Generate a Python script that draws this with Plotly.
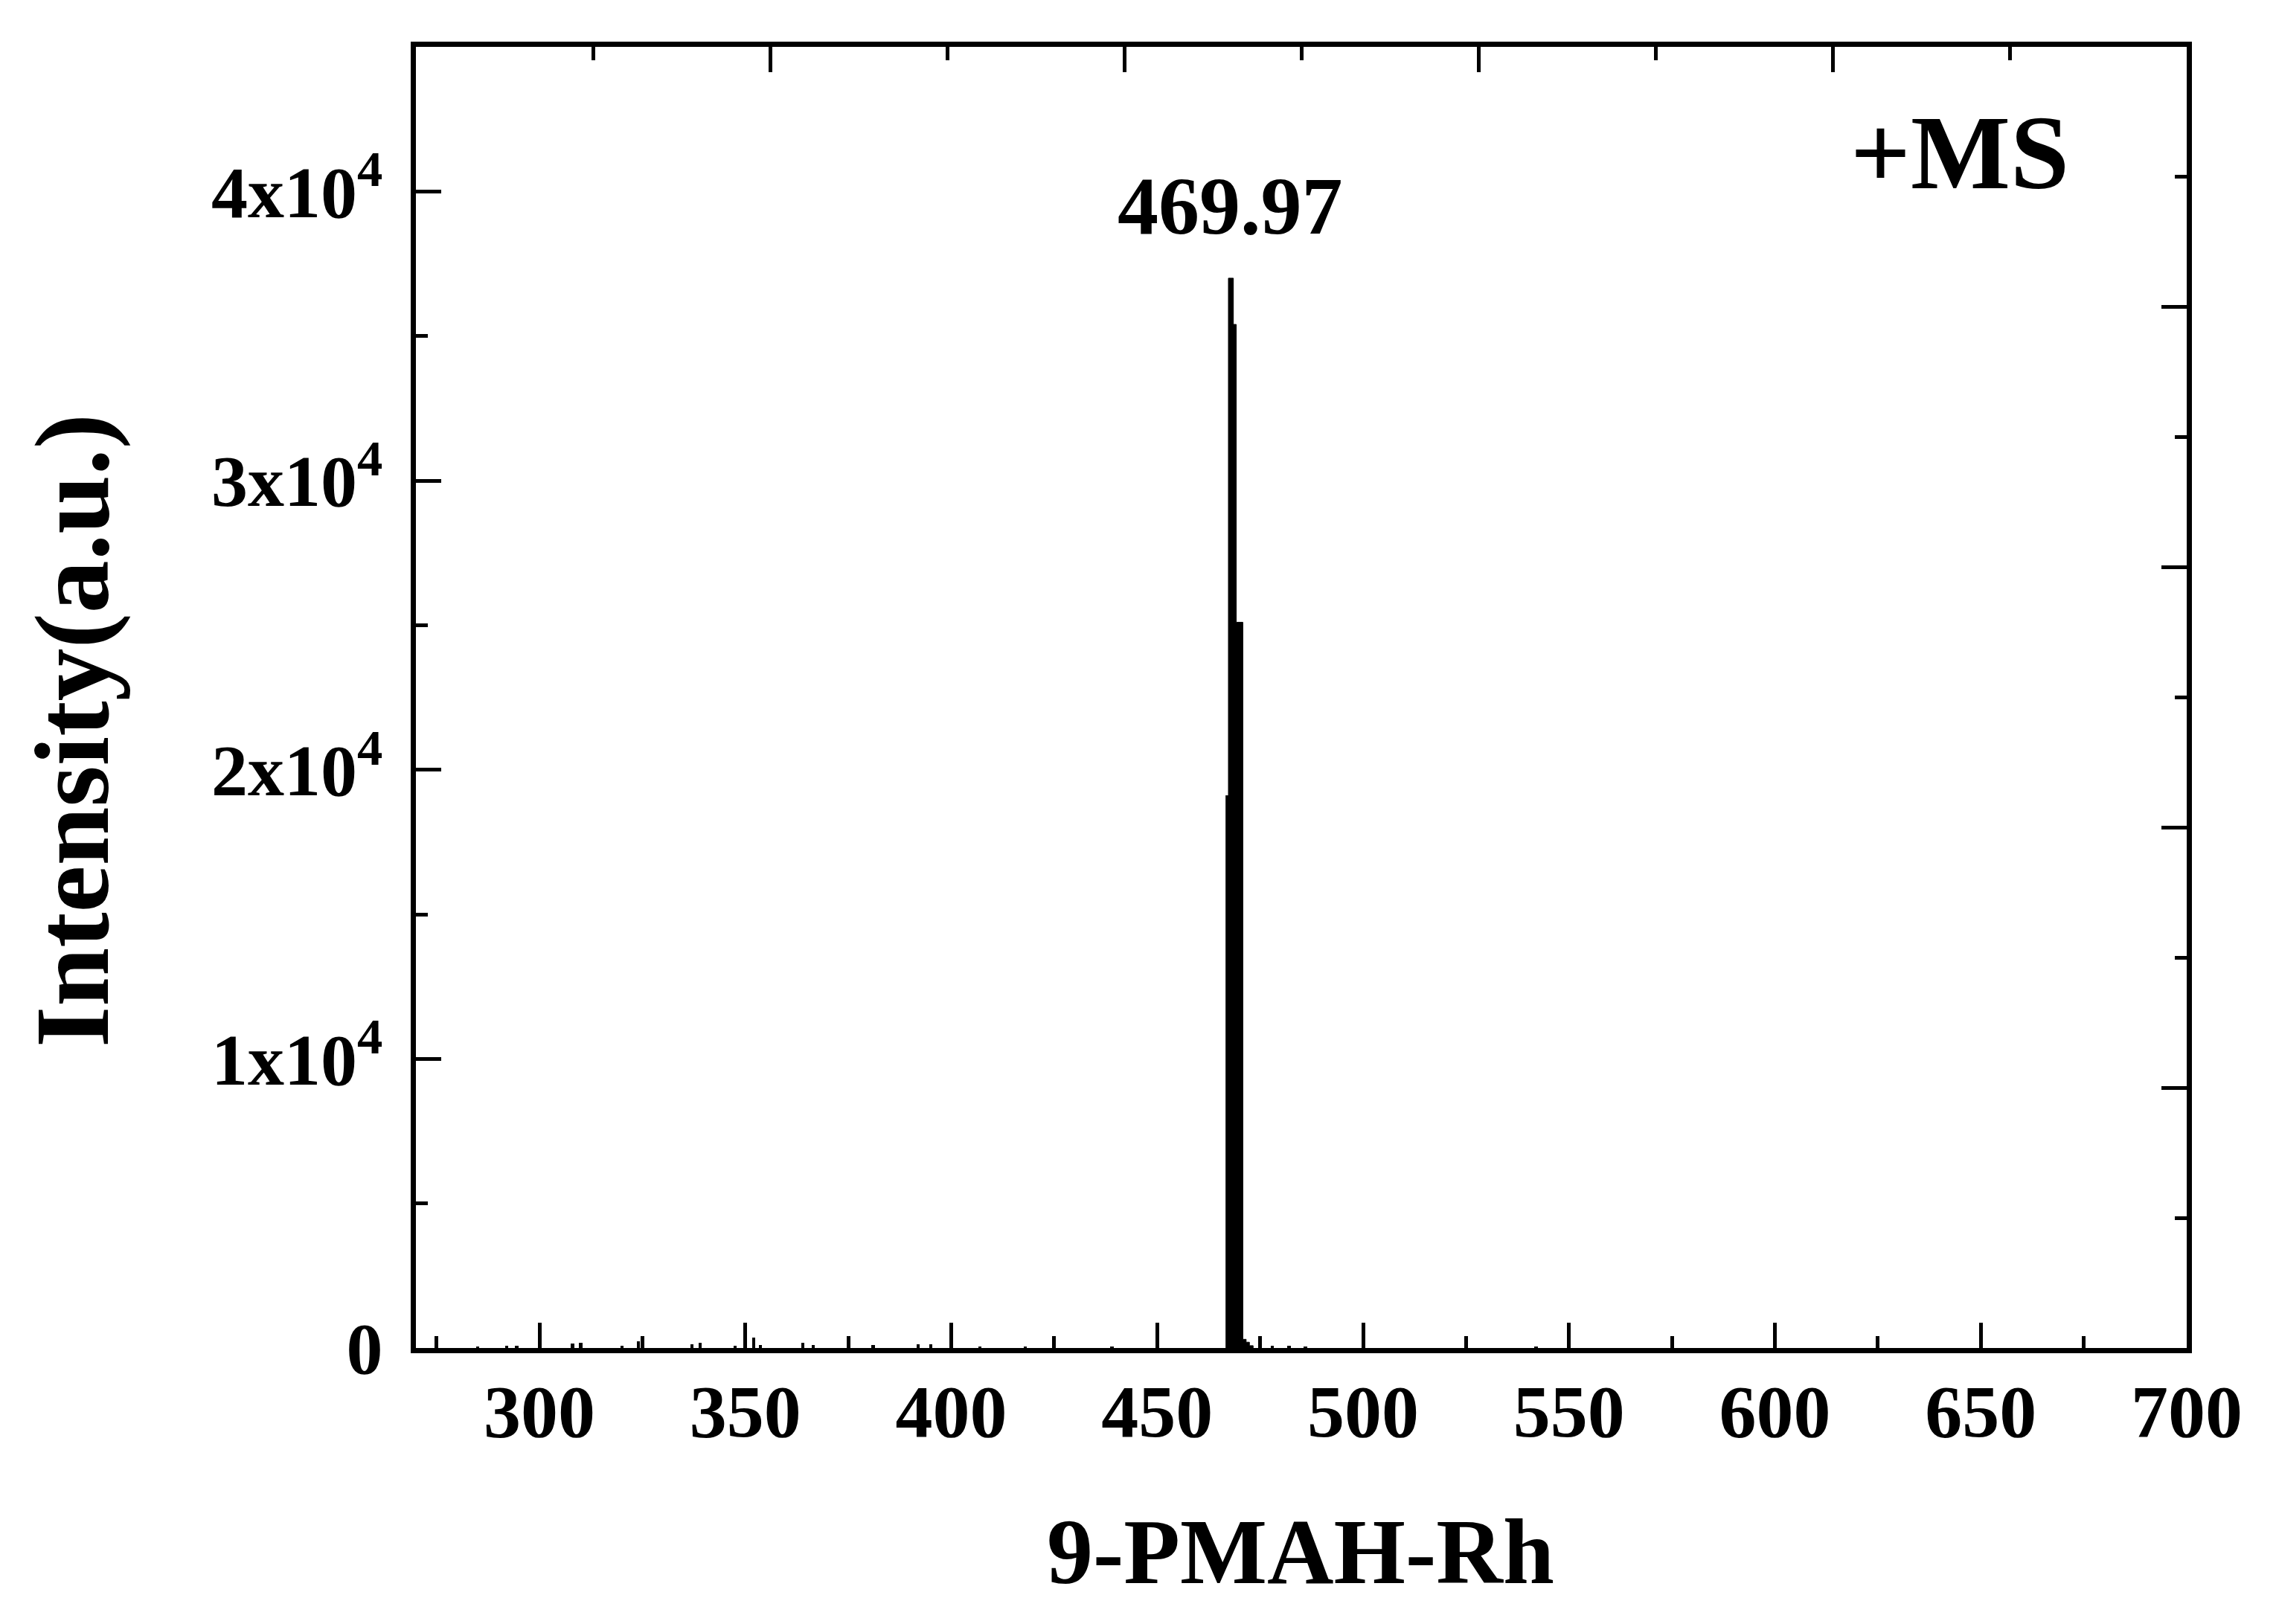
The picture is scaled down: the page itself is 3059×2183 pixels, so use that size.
import plotly.graph_objects as go

# ---- data ----
# main isotope cluster (step profile: m/z of step start, intensity)
peak_mz = [466.6, 467.3, 468.5, 469.2, 470.8, 471.6, 472.4, 473.3]
peak_int = [19100, 37000, 35400, 25100, 300, 200, 80, 0]

# small baseline peaks
noise_mz = [285, 292, 294.5, 308, 310, 320, 324, 337, 339, 347.5, 352, 353.6,
            364, 366.5, 381, 392, 395, 407, 418, 439, 475, 478, 482, 486, 542]
noise_int = [40, 90, 90, 150, 170, 90, 220, 120, 180, 90, 360, 100,
             180, 100, 100, 130, 140, 60, 50, 50, 400, 70, 80, 60, 60]

x_tick_vals = [300, 350, 400, 450, 500, 550, 600, 650, 700]
y_tick_vals = [0, 10000, 20000, 30000, 40000]
y_tick_text = ["0", "1x10<sup>4</sup>", "2x10<sup>4</sup>", "3x10<sup>4</sup>", "4x10<sup>4</sup>"]

peak_label = "469.97"
peak_label_pos = (467.8, 39500)
mode_label = "+MS"
x_title = "9-PMAH-Rh"
y_title = "Intensity(a.u.)"

FONT = "Liberation Serif"
OFF = 8  # default page (body) margin
W, H = 3059 - OFF, 2183 - OFF
L, R, T, B = 551, 120, 55, 371
PW, PH = W - L - R, H - T - B


def px(page_x):
    return (page_x - OFF - L) / PW


def py(page_y):
    return (OFF + H - B - page_y) / PH


fig = go.Figure()
fig.add_trace(go.Bar(x=noise_mz, y=noise_int, width=0.8,
                     marker=dict(color="black", line=dict(width=0)),
                     showlegend=False, hoverinfo="skip"))
fig.add_trace(go.Scatter(x=peak_mz, y=peak_int, mode="lines",
                         line=dict(shape="hv", color="black", width=1),
                         fill="tozeroy", fillcolor="black",
                         showlegend=False, hoverinfo="skip"))
# invisible trace so the top/right axes are drawn
fig.add_trace(go.Scatter(x=[0], y=[0], xaxis="x2", yaxis="y2", mode="markers",
                         marker=dict(opacity=0), showlegend=False, hoverinfo="skip"))

xtickfont = dict(family=FONT, size=100, color="black", weight="bold")
ytickfont = dict(family=FONT, size=98, color="black", weight="bold")
axis_common = dict(showgrid=False, zeroline=False, showline=True, linecolor="black",
                   linewidth=7, ticks="inside", tickcolor="black", tickwidth=5,
                   ticklen=34)

fig.update_layout(
    width=W, height=H, autosize=False,
    margin=dict(l=L, r=R, t=T, b=B, pad=0),
    paper_bgcolor="white", plot_bgcolor="white",
    bargap=0,
    xaxis=dict(range=[270, 700], tickvals=x_tick_vals, tickfont=xtickfont,
               minor=dict(ticks="inside", dtick=25, tick0=0, ticklen=16,
                          tickwidth=5, tickcolor="black", showgrid=False),
               ticklabelstandoff=-8, **axis_common),
    yaxis=dict(range=[0, 45000], tickvals=y_tick_vals, ticktext=y_tick_text,
               tickfont=ytickfont,
               minor=dict(ticks="inside", dtick=5000, tick0=0, ticklen=16,
                          tickwidth=5, tickcolor="black", showgrid=False),
               ticklabelstandoff=18, **axis_common),
    xaxis2=dict(overlaying="x", side="top", anchor="y", range=[0, 5], dtick=1,
                showticklabels=False,
                minor=dict(ticks="inside", dtick=0.5, ticklen=18, tickwidth=5,
                           tickcolor="black", showgrid=False),
                **axis_common),
    yaxis2=dict(overlaying="y", side="right", anchor="x", range=[0, 5], dtick=1,
                showticklabels=False,
                minor=dict(ticks="inside", dtick=0.5, ticklen=16, tickwidth=5,
                           tickcolor="black", showgrid=False),
                **axis_common),
    annotations=[
        dict(text=peak_label, x=peak_label_pos[0], y=peak_label_pos[1],
             xref="x", yref="y", showarrow=False, xanchor="center", yanchor="middle",
             font=dict(family=FONT, size=110, color="black", weight="bold")),
        dict(text=mode_label, x=px(2634), y=py(205),
             xref="paper", yref="paper", showarrow=False, xanchor="center", yanchor="middle",
             font=dict(family=FONT, size=142, color="black", weight="bold")),
        dict(text=x_title, x=px(1748), y=py(2086),
             xref="paper", yref="paper", showarrow=False, xanchor="center", yanchor="middle",
             font=dict(family=FONT, size=124, color="black", weight="bold")),
        dict(text=y_title, x=px(97), y=py(982),
             xref="paper", yref="paper", showarrow=False, xanchor="center", yanchor="middle",
             textangle=-90,
             font=dict(family=FONT, size=142, color="black", weight="bold")),
    ],
)

fig.write_html("out.html")
